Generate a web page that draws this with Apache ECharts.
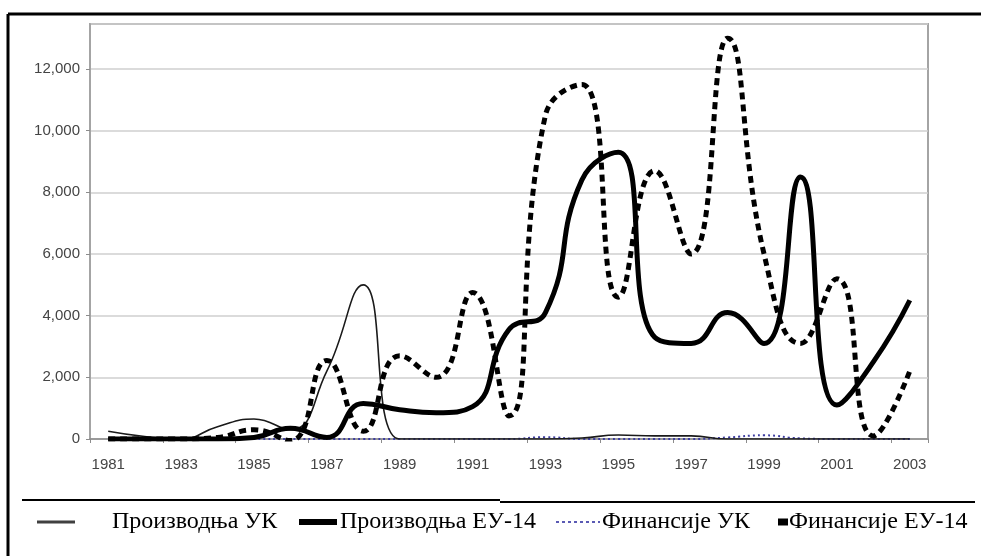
<!DOCTYPE html>
<html>
<head>
<meta charset="utf-8">
<script src="https://cdn.jsdelivr.net/npm/echarts@6/dist/echarts.min.js"></script>
<style>
html,body{margin:0;padding:0;background:#fff;}
#chart{width:981px;height:556px;}
</style>
</head>
<body>
<div id="chart"></div>
<script>
// Categories (years)
const years = ['1981','1982','1983','1984','1985','1986','1987','1988','1989','1990','1991','1992',
  '1993','1994','1995','1996','1997','1998','1999','2000','2001','2002','2003'];
// Series values
const prodUK = [250, 80, 0, 400, 650, 300, 2200, 5000, 0, 0, 0, 0, 0, 30, 130, 100, 100, 0, 0, 0, 0, 0, 0];
const prodEU = [0, 0, 0, 0, 50, 350, 50, 1150, 950, 850, 1050, 3550, 4100, 8400, 9300, 3300, 3100, 4100, 3100, 8500, 1100, 2500, 4500];
const finUK  = [0, 0, 0, 0, 0, 0, 0, 0, 0, 0, 0, 0, 60, 0, 0, 0, 0, 50, 120, 20, 0, 0, 0];
const finEU  = [0, 0, 0, 50, 300, -50, 2550, 250, 2700, 2000, 4750, 750, 10500, 11500, 4600, 8700, 6000, 13000, 6000, 3100, 5200, 100, 2200];
// Series names
const names = ['Производња УК', 'Производња ЕУ-14', 'Финансије УК', 'Финансије ЕУ-14'];
// Y tick values shown
const yTicks = [0, 2000, 4000, 6000, 8000, 10000, 12000];

const chart = echarts.init(document.getElementById('chart'), null, {renderer: 'canvas'});

const legendText = {fontFamily: 'Liberation Serif', fontSize: 24, color: '#000'};
const dotsIcon = 'path://M0,0h3v2h-3zM6,0h3v2h-3zM12,0h3v2h-3zM18,0h3v2h-3zM24,0h3v2h-3zM30,0h3v2h-3zM36,0h3v2h-3zM42,0h2v2h-2z';

const option = {
  animation: false,
  backgroundColor: '#fff',
  grid: {left: 90, right: 53, top: 24, bottom: 117, show: true, borderColor: '#a4a4a4', borderWidth: 2, backgroundColor: 'transparent'},
  xAxis: {
    type: 'category',
    data: years,
    boundaryGap: true,
    axisLine: {lineStyle: {color: '#8c8c8c', width: 1.5}},
    axisTick: {show: true, length: 4, lineStyle: {color: '#8c8c8c'}},
    axisLabel: {interval: 1, margin: 18, color: '#444', fontFamily: 'Liberation Sans', fontSize: 15},
    splitLine: {show: false}
  },
  yAxis: {
    type: 'value',
    min: 0,
    max: 13460,
    interval: 2000,
    axisLine: {show: true, lineStyle: {color: '#a4a4a4', width: 2}},
    axisTick: {show: true, length: 4, lineStyle: {color: '#8c8c8c'}},
    axisLabel: {
      margin: 10, color: '#444', fontFamily: 'Liberation Sans', fontSize: 15,
      showMaxLabel: false,
      formatter: v => yTicks.indexOf(v) >= 0 ? v.toLocaleString('en-US') : ''
    },
    splitLine: {show: true, lineStyle: {color: '#cfcfcf', width: 1.5}}
  },
  legend: [
    {left: 32, top: 505, itemWidth: 38, itemHeight: 3, itemGap: 0,
      data: [{name: names[0], icon: 'rect', itemStyle: {color: '#404040', borderWidth: 0}}],
      textStyle: Object.assign({padding: [0, 0, 0, 32]}, legendText)},
    {left: 294, top: 505, itemWidth: 38, itemHeight: 6, itemGap: 0,
      data: [{name: names[1], icon: 'rect', itemStyle: {color: '#000', borderWidth: 0}}],
      textStyle: Object.assign({padding: [0, 0, 0, -2]}, legendText)},
    {left: 551, top: 505, itemWidth: 44, itemHeight: 2, itemGap: 0,
      data: [{name: names[2], icon: dotsIcon, itemStyle: {color: '#5a5ab4', borderWidth: 0}}],
      textStyle: Object.assign({padding: [0, 0, 0, -3]}, legendText)},
    {left: 773, top: 505, itemWidth: 10, itemHeight: 7, itemGap: 0,
      data: [{name: names[3], icon: 'rect', itemStyle: {color: '#000', borderWidth: 0}}],
      textStyle: Object.assign({padding: [0, 0, 0, -4]}, legendText)}
  ],
  series: [
    {name: names[0], type: 'line', data: prodUK, smooth: true, showSymbol: false, symbol: 'none',
      lineStyle: {color: '#1a1a1a', width: 1.6}, itemStyle: {color: '#1a1a1a'}, z: 3},
    {name: names[1], type: 'line', data: prodEU, smooth: true, showSymbol: false, symbol: 'none',
      lineStyle: {color: '#000', width: 5}, itemStyle: {color: '#000'}, z: 4},
    {name: names[2], type: 'line', data: finUK, smooth: true, showSymbol: false, symbol: 'none',
      lineStyle: {color: '#3c3ca0', width: 2, type: [2, 3]}, itemStyle: {color: '#3c3ca0'}, z: 2},
    {name: names[3], type: 'line', data: finEU, smooth: true, showSymbol: false, symbol: 'none',
      lineStyle: {color: '#000', width: 5, type: [7, 5], cap: 'butt'}, itemStyle: {color: '#000'}, z: 5}
  ],
  graphic: [
    {type: 'line', shape: {x1: 8, y1: 14, x2: 981, y2: 14}, style: {stroke: '#000', lineWidth: 3}, silent: true},
    {type: 'line', shape: {x1: 8, y1: 14, x2: 8, y2: 556}, style: {stroke: '#000', lineWidth: 3}, silent: true},
    {type: 'line', shape: {x1: 22, y1: 500, x2: 500, y2: 500}, style: {stroke: '#000', lineWidth: 2}, silent: true},
    {type: 'line', shape: {x1: 500, y1: 502, x2: 975, y2: 502}, style: {stroke: '#000', lineWidth: 2}, silent: true}
  ]
};
chart.setOption(option);
</script>
</body>
</html>
